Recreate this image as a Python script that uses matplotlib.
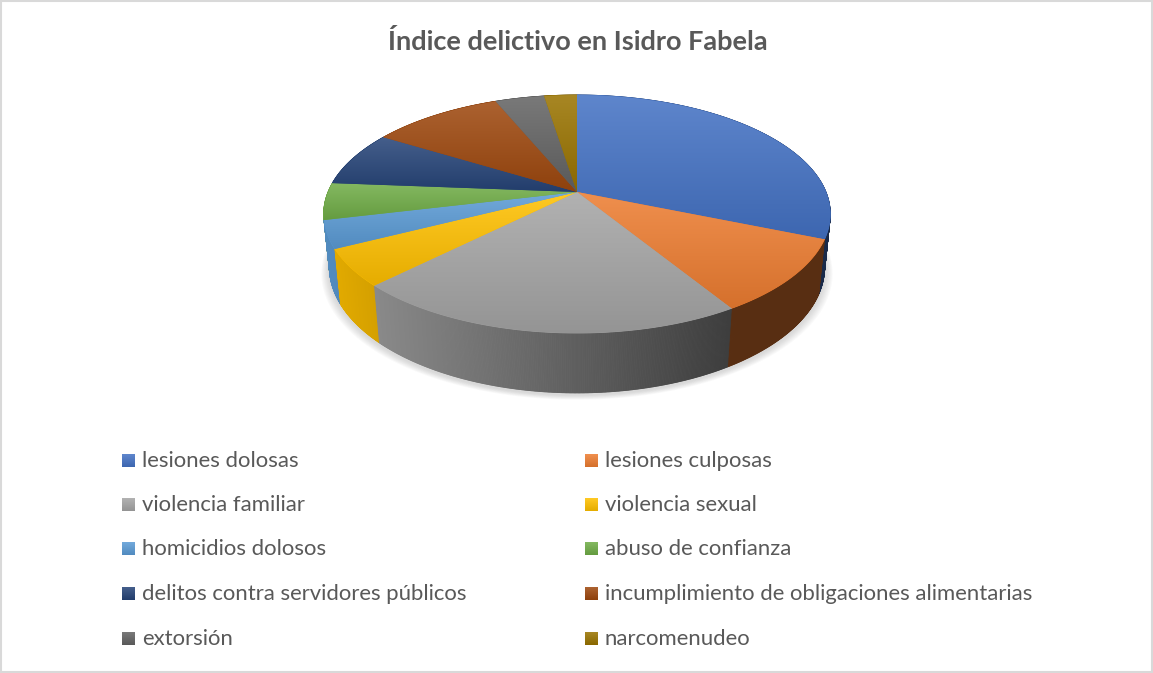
import numpy as np
import matplotlib.pyplot as plt
from matplotlib.patches import Polygon, Rectangle
from matplotlib.collections import PolyCollection
from matplotlib.colors import to_rgb

# datos
categories = ['lesiones dolosas', 'lesiones culposas', 'violencia familiar', 'violencia sexual',
              'homicidios dolosos', 'abuso de confianza', 'delitos contra servidores públicos',
              'incumplimiento de obligaciones alimentarias', 'extorsión', 'narcomenudeo']
values = [25, 8, 17, 4, 3, 4, 6, 8, 3, 2]
colors = ['#4472C4', '#ED7D31', '#A5A5A5', '#FFC000', '#5B9BD5', '#70AD47',
          '#264478', '#9E480E', '#636363', '#997300']
title = 'Índice delictivo en Isidro Fabela'

W, H = 1153, 673
FONT = 'Lato'
TXT = '#595959'

# camara para el pastel 3D (perspectiva simple)
elev = np.arcsin(0.4525)
dist = 4.82
depth_h = 0.235
cx, cy = 577.0, 192.0
scale = 254.0 * dist
sx = 0.98  # el contorno sale un poco mas ancho que 1/dist


def project(x, y, z):
    s, c = np.sin(elev), np.cos(elev)
    d = dist + y * c - z * s
    X = cx + sx * scale * x / d
    Y = cy - scale * (y * s + z * c) / d
    return X, Y, d


def rim(phi, z):
    # phi en grados, sentido horario desde las 12
    p = np.radians(phi)
    return project(np.sin(p), np.cos(p), z)


def shade(X):
    return np.clip(0.9 - 0.53 * (X - 323) / 410, 0.37, 0.95)


def gradient(col, n=128):
    base = np.array(to_rgb(col))
    t = np.linspace(0, 1, n)[:, None]
    light = base + (1 - base) * 0.14
    dark = base * 0.9
    return (light * (1 - t) + dark * t)[:, None, :]


fig = plt.figure(figsize=(W / 100, H / 100), dpi=100)
ax = fig.add_axes([0, 0, 1, 1])
ax.set_xlim(0, W)
ax.set_ylim(H, 0)
ax.axis('off')

ax.add_patch(Rectangle((1, 1), W - 2, H - 2, fill=False, ec='#d9d9d9', lw=1.5, zorder=0))

total = float(sum(values))
bounds = np.concatenate([[0], np.cumsum(values) / total * 360])

# sombra suave
phis = np.linspace(0, 360, 361)
bx, by, _ = rim(phis, -depth_h)
for k in range(8):
    g = 1 + 0.004 * (8 - k)
    ax.fill(cx + (bx - cx) * g, by + 2 + (8 - k) * 0.6, color='#7f7f7f', alpha=0.04, lw=0, zorder=1)

# paredes laterales
edges = np.linspace(0, 360, 1441)
quads, qcols, qdepth = [], [], []
for a0, a1 in zip(edges[:-1], edges[1:]):
    mid = 0.5 * (a0 + a1)
    k = np.searchsorted(bounds, mid) - 1
    x0, y0, d0 = rim(a0, 0)
    x1, y1, d1 = rim(a1, 0)
    x2, y2, _ = rim(a1, -depth_h)
    x3, y3, _ = rim(a0, -depth_h)
    quads.append([(x0, y0), (x1, y1), (x2, y2), (x3, y3)])
    f = shade(0.5 * (x0 + x1))
    qcols.append(np.array(to_rgb(colors[k])) * f)
    qdepth.append(0.5 * (d0 + d1))
order = np.argsort(qdepth)[::-1]
quads = [quads[i] for i in order]
qcols = [qcols[i] for i in order]
ax.add_collection(PolyCollection(quads, facecolors=qcols, edgecolors=qcols, lw=0.6, zorder=2))

# caras superiores con degradado
for k, col in enumerate(colors):
    a = np.linspace(bounds[k], bounds[k + 1], max(int((bounds[k + 1] - bounds[k]) * 2), 4))
    xs, ys, _ = rim(a, 0)
    pts = np.column_stack([np.r_[cx, xs], np.r_[cy, ys]])
    base = np.array(to_rgb(col))
    poly = Polygon(pts, closed=True, fc=base * 0.97, ec=base * 0.97, lw=0.6, zorder=3)
    ax.add_patch(poly)
    im = ax.imshow(gradient(col), extent=(pts[:, 0].min(), pts[:, 0].max(), pts[:, 1].max(), pts[:, 1].min()),
                   aspect='auto', interpolation='bilinear', zorder=4)
    im.set_clip_path(poly)

renderer = fig.canvas.get_renderer()


def fit_size(txt, width, **kw):
    t = ax.text(0, 0, txt, fontsize=10, family=FONT, **kw)
    w = t.get_window_extent(renderer).width
    t.remove()
    return 10 * width / w


tsize = fit_size(title, 382, fontweight='bold')
ax.text(578, 42, title, fontsize=tsize, family=FONT, fontweight='bold', color=TXT,
        ha='center', va='center')

# leyenda en dos columnas
lsize = fit_size(categories[6], 326)
col_x = [122, 585]
row_y = [461, 505, 549, 594, 639]
for i, (name, col) in enumerate(zip(categories, colors)):
    x0 = col_x[i % 2]
    y0 = row_y[i // 2]
    ax.imshow(gradient(col, 16), extent=(x0, x0 + 13, y0 + 6.5, y0 - 6.5),
              aspect='auto', interpolation='bilinear', zorder=5)
    ax.text(x0 + 20, y0, name, fontsize=lsize, family=FONT, color=TXT, ha='left', va='center')

ax.set_xlim(0, W)
ax.set_ylim(H, 0)

fig.savefig('out.png', dpi=100)
